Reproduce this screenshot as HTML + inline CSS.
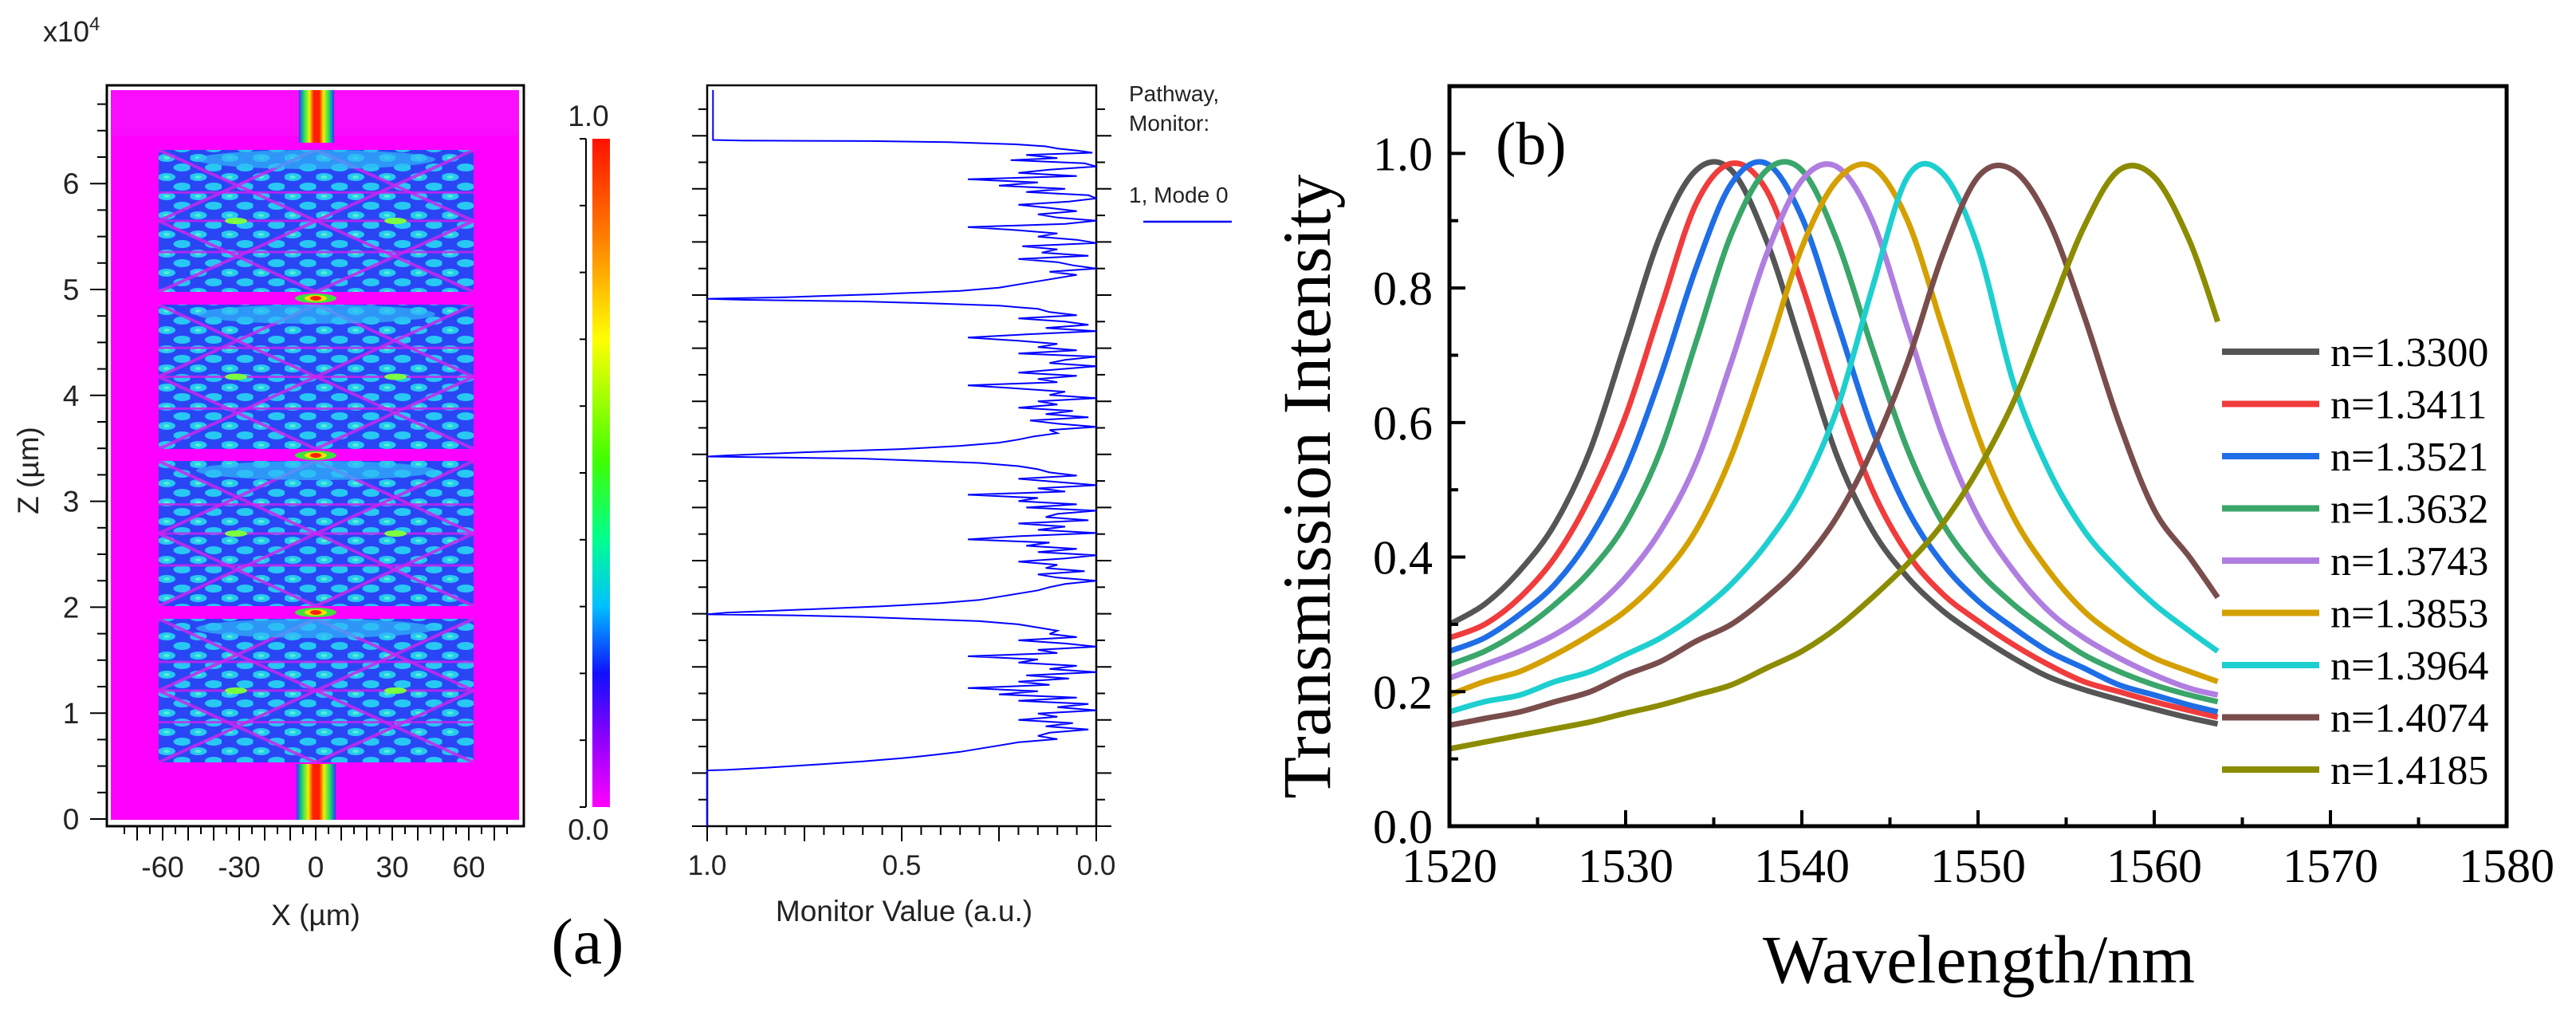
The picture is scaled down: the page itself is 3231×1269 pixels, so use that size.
<!DOCTYPE html>
<html><head><meta charset="utf-8"><style>
html,body{margin:0;padding:0;background:#fff;}
svg{display:block;}
.sa{font-family:"Liberation Sans",Arial,sans-serif;}
.se{font-family:"Liberation Serif","Times New Roman",serif;}
</style></head>
<body>
<svg id="fig" width="3231" height="1269" viewBox="0 0 3231 1269" xmlns="http://www.w3.org/2000/svg">
<defs>
<pattern id="blobs" x="199" y="0" width="39.5" height="24" patternUnits="userSpaceOnUse">
<rect width="39.5" height="24" fill="#2a46f4"/>
<ellipse cx="10" cy="6" rx="11" ry="5" fill="#27c8f4"/>
<ellipse cx="29.5" cy="18" rx="11" ry="5" fill="#27c8f4"/>
<ellipse cx="10" cy="6" rx="4" ry="2" fill="#4ff0d0"/>
</pattern>
<linearGradient id="wg" x1="0" x2="1" y1="0" y2="0">
<stop offset="0" stop-color="#2040ff"/><stop offset="0.15" stop-color="#20e060"/><stop offset="0.3" stop-color="#f0f000"/><stop offset="0.42" stop-color="#ff2000"/><stop offset="0.58" stop-color="#ff2000"/><stop offset="0.7" stop-color="#f0f000"/><stop offset="0.85" stop-color="#20e060"/><stop offset="1" stop-color="#2040ff"/>
</linearGradient>
<linearGradient id="cbar" x1="0" x2="0" y1="0" y2="1">
<stop offset="0" stop-color="#ff1000"/><stop offset="0.15" stop-color="#ff8000"/><stop offset="0.3" stop-color="#ffff00"/><stop offset="0.48" stop-color="#40ff00"/><stop offset="0.6" stop-color="#00ff90"/><stop offset="0.7" stop-color="#00c0ff"/><stop offset="0.8" stop-color="#1010ff"/><stop offset="0.9" stop-color="#9000ff"/><stop offset="1" stop-color="#ff00ff"/>
</linearGradient>
<clipPath id="clipb"><rect x="1818" y="108" width="1326" height="928"/></clipPath>
</defs>

<!-- ===== Panel (a) left: field map ===== -->
<g>
<rect x="139" y="113" width="512" height="915" fill="#ff00ff"/>
<rect x="139" y="113" width="512" height="57" fill="#fa0cfc"/>
<rect x="375" y="113" width="44" height="66" fill="url(#wg)"/>
<rect x="372" y="958" width="49" height="70" fill="url(#wg)"/>
<g id="mmi"></g>
<rect x="134" y="107" width="523" height="929" fill="none" stroke="#000" stroke-width="3"/>
<g id="aaxes" class="sa" font-size="37" fill="#222"></g>
<text class="sa" x="54" y="52" font-size="36" fill="#222">x10<tspan dy="-14" font-size="24">4</tspan></text>
<text class="sa" transform="translate(48,590) rotate(-90)" text-anchor="middle" font-size="37" fill="#222">Z (µm)</text>
<text class="sa" x="396" y="1160" text-anchor="middle" font-size="37" fill="#222">X (µm)</text>
<rect x="743" y="174" width="22" height="838" fill="url(#cbar)"/>
<line x1="735" y1="174" x2="735" y2="1012" stroke="#000" stroke-width="2"/>
<g id="cbticks"></g>
<text class="sa" x="738" y="158" text-anchor="middle" font-size="37" fill="#222">1.0</text>
<text class="sa" x="738" y="1053" text-anchor="middle" font-size="37" fill="#222">0.0</text>
<text class="se" x="737" y="1208" text-anchor="middle" font-size="82" fill="#000">(a)</text>
</g>

<!-- ===== Panel (a) right: monitor ===== -->
<g>
<rect x="887" y="107" width="488" height="929" fill="#fff" stroke="#000" stroke-width="2.5"/>
<g id="maxes" class="sa" fill="#222"></g>
<polyline id="montrace" fill="none" stroke="#0000ff" stroke-width="2"/>
<text class="sa" x="1134" y="1155" text-anchor="middle" font-size="37" fill="#222">Monitor Value (a.u.)</text>
<text class="sa" x="1416" y="127" font-size="28" fill="#222">Pathway,</text>
<text class="sa" x="1416" y="164" font-size="28" fill="#222">Monitor:</text>
<text class="sa" x="1416" y="254" font-size="28" fill="#222">1, Mode 0</text>
<line x1="1434" y1="278" x2="1545" y2="278" stroke="#0000ff" stroke-width="2.5"/>
</g>

<!-- ===== Panel (b) ===== -->
<g>
<g id="bseries" clip-path="url(#clipb)"></g>
<g id="baxes" class="se"></g>
<rect x="1818" y="108" width="1326" height="928" fill="none" stroke="#000" stroke-width="5"/>
<g id="blegend" class="se"></g>
<text class="se" x="1876" y="206" font-size="76" fill="#000">(b)</text>
<text class="se" x="2482" y="1232" text-anchor="middle" font-size="86" fill="#000">Wavelength/nm</text>
<text class="se" transform="translate(1668,610) rotate(-90)" text-anchor="middle" font-size="86" fill="#000">Transmission Intensity</text>
</g>
</svg>

<script>
// ---------- Panel (b) data ----------
var wavelengths = [1520,1522,1524,1526,1528,1530,1532,1534,1536,1538,1540,1542,1544,1546,1548,1550,1552,1554,1556,1558,1560,1562,1563.6];
var seriesLabels = ["n=1.3300","n=1.3411","n=1.3521","n=1.3632","n=1.3743","n=1.3853","n=1.3964","n=1.4074","n=1.4185"];
var seriesColors = ["#555555","#f03c3c","#1f6ee6","#3aa66a","#b07ee0","#d4a000","#1ecfcf","#7a4d4d","#8c8c00"];
var s1330 = [.30,.33,.38,.45,.56,.72,.88,.975,.975,.87,.71,.55,.44,.37,.32,.283,.25,.222,.203,.188,.174,.161,.152];
var s1341 = [.28,.30,.34,.40,.49,.61,.77,.925,.985,.945,.805,.64,.50,.405,.345,.305,.27,.24,.215,.20,.185,.172,.162];
var s1352 = [.26,.28,.315,.36,.43,.53,.67,.83,.955,.985,.905,.75,.59,.47,.39,.335,.295,.26,.235,.21,.195,.18,.17];
var s1363 = [.24,.26,.29,.33,.38,.45,.56,.72,.88,.975,.975,.87,.71,.56,.45,.38,.33,.29,.255,.23,.21,.195,.185];
var s1374 = [.22,.24,.26,.285,.32,.37,.44,.54,.69,.85,.96,.98,.90,.74,.58,.46,.38,.32,.28,.25,.225,.205,.195];
var s1385 = [.195,.215,.23,.255,.285,.32,.37,.44,.55,.70,.86,.96,.98,.90,.74,.58,.46,.38,.32,.28,.25,.23,.215];
var s1396 = [.17,.185,.195,.215,.23,.255,.28,.315,.36,.42,.50,.62,.80,.965,.97,.86,.66,.53,.44,.38,.33,.29,.26];
var s1407 = [.15,.16,.17,.185,.20,.225,.245,.275,.30,.34,.39,.46,.56,.69,.85,.965,.975,.90,.76,.60,.47,.40,.34];
var s1418 = [.115,.125,.135,.145,.155,.168,.18,.195,.21,.235,.26,.295,.34,.39,.45,.53,.63,.76,.89,.975,.965,.87,.75];
var allSeries = [s1330,s1341,s1352,s1363,s1374,s1385,s1396,s1407,s1418];
var xTicks = [1520,1530,1540,1550,1560,1570,1580];
var yTicks = [0.0,0.2,0.4,0.6,0.8,1.0];
var yTickLabels = ["0.0","0.2","0.4","0.6","0.8","1.0"];

// ---------- Panel (a) monitor data (z in 1e4 µm, value a.u.) ----------
var monZ = [6.93,6.46,6.455,6.45,6.44,6.42,6.40,6.38,6.36,6.34,
6.32,6.29,6.27,6.24,6.21,6.18,6.15,6.12,6.09,6.06,6.03,6.00,5.97,5.94,5.91,5.88,5.85,5.82,5.79,5.76,5.73,5.70,5.67,5.64,5.61,5.58,5.55,5.52,5.49,5.46,5.43,5.40,5.37,5.34,5.31,5.28,5.25,5.22,5.19,5.16,5.13,5.10,5.07,5.04,5.01,4.98,4.965,4.955,4.94,4.92,4.90,4.87,4.84,
4.81,4.78,4.75,4.72,4.69,4.66,4.63,4.60,4.57,4.54,4.51,4.48,4.45,4.42,4.39,4.36,4.33,4.30,4.27,4.24,4.21,4.18,4.15,4.12,4.09,4.06,4.03,4.00,3.97,3.94,3.91,3.88,3.85,3.82,3.79,3.76,3.73,3.70,3.67,3.64,3.61,3.58,3.55,3.52,3.49,3.48,3.47,3.46,3.44,3.42,3.39,3.36,
3.33,3.30,3.27,3.24,3.21,3.18,3.15,3.12,3.09,3.06,3.03,3.00,2.97,2.94,2.91,2.88,2.85,2.82,2.79,2.76,2.73,2.70,2.67,2.64,2.61,2.58,2.55,2.52,2.49,2.46,2.43,2.40,2.37,2.34,2.31,2.28,2.25,2.22,2.19,2.16,2.13,2.10,2.07,2.04,2.01,1.995,1.985,1.97,1.95,1.93,1.90,1.87,
1.84,1.81,1.78,1.75,1.72,1.69,1.66,1.63,1.60,1.57,1.54,1.51,1.48,1.45,1.42,1.39,1.36,1.33,1.30,1.27,1.24,1.21,1.18,1.15,1.12,1.09,1.06,1.03,1.00,0.97,0.94,0.91,0.88,0.85,0.82,0.79,0.76,0.73,0.70,0.67,0.64,0.61,0.58,0.55,0.53,0.525,0.0];
var monV = [.985,.985,.91,.58,.38,.21,.13,.10,.05,.01,
.18,.10,.22,.03,.0,.12,.20,.05,.33,.15,.25,.08,.18,.02,.0,.07,.20,.12,.05,.15,.10,.0,.08,.33,.20,.10,.15,.05,.0,.19,.10,.14,.02,.20,.10,.06,.0,.12,.05,.10,.15,.20,.25,.35,.55,.80,1.0,.90,.60,.40,.25,.15,.12,
.05,.20,.08,.02,.13,.0,.18,.33,.20,.10,.15,.05,.20,.0,.08,.12,.0,.10,.20,.05,.15,.10,.33,.20,.08,.12,.0,.15,.10,.20,.06,.13,.02,.17,.10,.0,.12,.10,.16,.20,.25,.35,.50,.75,.95,1.0,.80,.60,.45,.30,.20,.15,
.12,.05,.20,.10,.0,.15,.08,.33,.15,.20,.05,.18,.0,.10,.13,.02,.20,.08,.15,.0,.20,.33,.12,.18,.05,.15,.0,.08,.20,.10,.13,.03,.15,.10,.0,.08,.12,.15,.20,.25,.30,.40,.55,.75,.95,1.0,.78,.60,.45,.30,.20,.15,
.10,.12,.05,.20,.08,.0,.15,.10,.33,.15,.20,.05,.12,.0,.18,.07,.20,.12,.33,.15,.25,.05,.20,.02,.10,.0,.15,.10,.20,.06,.13,.02,.12,.15,.10,.20,.25,.30,.35,.42,.50,.60,.72,.85,.95,1.0,1.0];
var fieldXTicks = [-60,-30,0,30,60];
var fieldZTicks = [0,1,2,3,4,5,6];
var monXTicks = [1.0,0.5,0.0];
var monXTickLabels = ["1.0","0.5","0.0"];

var NS = "http://www.w3.org/2000/svg";
function mk(tag, attrs, parent){ var e=document.createElementNS(NS,tag); for(var k in attrs) e.setAttribute(k,attrs[k]); parent.appendChild(e); return e; }

// ---- Panel (b) scales ----
function bx(w){ return 1818 + (w-1520)/60*1326; }
function by(v){ return 1036 - v/1.1*928; }

var bs = document.getElementById('bseries');
function smoothPath(xs, ys){
  var pts = xs.map(function(x,i){return [bx(x), by(ys[i])];});
  var d = "M"+pts[0][0].toFixed(1)+","+pts[0][1].toFixed(1);
  for(var i=0;i<pts.length-1;i++){
    var p0=pts[Math.max(0,i-1)], p1=pts[i], p2=pts[i+1], p3=pts[Math.min(pts.length-1,i+2)];
    var c1=[p1[0]+(p2[0]-p0[0])/6, p1[1]+(p2[1]-p0[1])/6];
    var c2=[p2[0]-(p3[0]-p1[0])/6, p2[1]-(p3[1]-p1[1])/6];
    d += " C"+c1[0].toFixed(1)+","+c1[1].toFixed(1)+" "+c2[0].toFixed(1)+","+c2[1].toFixed(1)+" "+p2[0].toFixed(1)+","+p2[1].toFixed(1);
  }
  return d;
}
allSeries.forEach(function(s, i){
  var p = mk('path', {d: smoothPath(wavelengths, s), fill:'none', stroke: seriesColors[i], 'stroke-width': 7, 'stroke-linejoin':'round'}, bs);
  
  
});

var ba = document.getElementById('baxes');
for (var w=1520; w<=1580; w+=5){
  var major = (w%10===0);
  var t = mk('line',{x1:bx(w),x2:bx(w),y1:1036,y2:1036-(major?20:11),stroke:'#000','stroke-width':4},ba);
  
  
}
xTicks.forEach(function(w){
  var t = mk('text',{x:bx(w),y:1106,'text-anchor':'middle','font-size':60,fill:'#000'},ba);
  t.textContent = String(w);
  
  
});
for (var k=0; k<=10; k++){
  var v = k/10;
  var t2 = mk('line',{x1:1818,x2:1818+(k%2===0?20:11),y1:by(v),y2:by(v),stroke:'#000','stroke-width':4},ba);
  
  
}
yTicks.forEach(function(v,i){
  var t = mk('text',{x:1797,y:by(v)+21,'text-anchor':'end','font-size':60,fill:'#000'},ba);
  t.textContent = yTickLabels[i];
  
  
});

var bl = document.getElementById('blegend');
seriesLabels.forEach(function(lab,i){
  var y = 441 + i*65.5;
  var l = mk('line',{x1:2787,x2:2909,y1:y,y2:y,stroke:seriesColors[i],'stroke-width':8},bl);
  
  
  var t = mk('text',{x:2923,y:y+18,'font-size':52,fill:'#000'},bl);
  t.textContent = lab;
  
  
});

// ---- Panel (a) field axes ----
function fx(x){ return 396 + x*3.2; }
function fz(z){ return 1027 - z*132.8; }
var aa = document.getElementById('aaxes');
for (var x=-75; x<=75; x+=5){
  var tk = mk('line',{x1:fx(x),x2:fx(x),y1:1036,y2:1036+(x%10===0?18:10),stroke:'#000','stroke-width':2},aa);
  
  
}
fieldXTicks.forEach(function(x){
  var t = mk('text',{x:fx(x),y:1100,'text-anchor':'middle'},aa);
  t.textContent = String(x);
  
  
});
for (var q=0; q<=27; q++){
  var z = q/4;
  var tz = mk('line',{x1:134-(q%4===0?21:12),x2:134,y1:fz(z),y2:fz(z),stroke:'#000','stroke-width':2},aa);
  
  
}
fieldZTicks.forEach(function(z){
  var t = mk('text',{x:89,y:fz(z)+13,'text-anchor':'middle'},aa);
  t.textContent = String(z);
  
  
});
var cb = document.getElementById('cbticks');
for (var c=0; c<=10; c++){
  var cy = 174 + c*83.8;
  var ct = mk('line',{x1:727,x2:735,y1:cy,y2:cy,stroke:'#000','stroke-width':2},cb);
  
  
}

// MMI blocks (decorative)
var mmi = document.getElementById('mmi');
var blocks = [[188,366],[382,563],[578,760],[776,956]];
blocks.forEach(function(b,i){
  var g = mk('g',{},mmi);
  
  
  mk('rect',{x:199,y:b[0],width:395,height:b[1]-b[0],fill:'url(#blobs)',rx:6},g);
  var h=b[1]-b[0];
  [[199,b[0],594,b[1]],[594,b[0],199,b[1]],[199,b[0]+h/2,396,b[1]],[594,b[0]+h/2,396,b[1]],[199,b[0]+h/2,396,b[0]],[594,b[0]+h/2,396,b[0]]].forEach(function(L){
    mk('line',{x1:L[0],y1:L[1],x2:L[2],y2:L[3],stroke:'#c828f0','stroke-width':4,opacity:0.85},g);
  });
  [b[0]+h*0.3,b[0]+h*0.5,b[0]+h*0.72].forEach(function(yy){
    mk('line',{x1:199,x2:594,y1:yy,y2:yy,stroke:'#d020f0','stroke-width':3,opacity:0.8},g);
  });
  mk('ellipse',{cx:396,cy:b[0]+12,rx:150,ry:12,fill:'#30b8f8',opacity:0.7},g);
  mk('ellipse',{cx:296,cy:b[0]+h*0.5,rx:14,ry:4,fill:'#7cff40'},g);
  mk('ellipse',{cx:496,cy:b[0]+h*0.5,rx:14,ry:4,fill:'#7cff40'},g);
});
[374,571,768].forEach(function(sy){
  var s = mk('g',{},mmi);
  
  
  mk('ellipse',{cx:396,cy:sy,rx:26,ry:6,fill:'#40e040'},s);
  mk('ellipse',{cx:396,cy:sy,rx:14,ry:4,fill:'#ffe000'},s);
  mk('ellipse',{cx:396,cy:sy,rx:7,ry:3,fill:'#ff2000'},s);
});

// ---- Panel (a) monitor axes & trace ----
function mx(v){ return 1375 - v*488; }
function mz(z){ return 1036 - z*133.2; }
var ma = document.getElementById('maxes');
for (var r=0; r<=27; r++){
  var zz = r/4, longT = (r%2===0);
  var yy = mz(zz);
  if (yy < 110) continue;
  var l1 = mk('line',{x1:887-(longT?19:11),x2:887,y1:yy,y2:yy,stroke:'#000','stroke-width':2},ma);
  
  
  var l2 = mk('line',{x1:1375,x2:1375+(longT?19:11),y1:yy,y2:yy,stroke:'#000','stroke-width':2},ma);
  
  
}
for (var u=0; u<=20; u++){
  var vv = u/20;
  var l3 = mk('line',{x1:mx(vv),x2:mx(vv),y1:1036,y2:1036+(u%5===0?19:11),stroke:'#000','stroke-width':2},ma);
  
  
}
monXTicks.forEach(function(v,i){
  var t = mk('text',{x:mx(v),y:1097,'text-anchor':'middle','font-size':35},ma);
  t.textContent = monXTickLabels[i];
  
  
});
var pts = monZ.map(function(z,i){ return mx(monV[i]).toFixed(1)+","+mz(z).toFixed(1); });
document.getElementById('montrace').setAttribute('points', pts.join(' '));
</script>
</body></html>
